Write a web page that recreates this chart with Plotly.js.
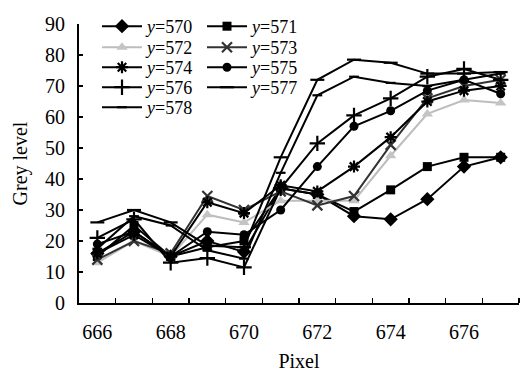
<!DOCTYPE html>
<html>
<head>
<meta charset="utf-8">
<script src="https://cdn.plot.ly/plotly-3.0.1.min.js"></script>
<style>html,body{margin:0;padding:0;background:#fff;}#chart{width:520px;height:374px;}</style>
</head>
<body>
<div id="chart"></div>
<script>
// ---- data ----
var pixels = [666, 667, 668, 669, 670, 671, 672, 673, 674, 675, 676, 677];
var seriesNames = ["570", "571", "572", "573", "574", "575", "576", "577", "578"];
var y570 = [16, 23, 15, 20, 16.5, 37, 35, 28, 27, 33.5, 44, 47];
var y571 = [15, 25, 15, 18, 20, 37, 35, 29.5, 36.5, 44, 47, 47];
var y572 = [13, 20, 15, 28.5, 26, 33, 33, 33, 47.5, 61, 65.5, 64.5];
var y573 = [14, 20, 16, 34.5, 30, 36, 31.5, 34.5, 51, 66, 70, 72];
var y574 = [16, 22, 15, 32.5, 29, 38, 36, 44, 53.5, 65, 68.5, 70];
var y575 = [19, 23, 15, 23, 22, 30, 44, 57, 62, 68.5, 72, 67.5];
var y576 = [21, 27, 13, 14.5, 11.5, 37, 51.5, 60.5, 66, 73, 75.5, 72];
var y577 = [26, 30, 26, 18.5, 18, 47, 72, 78.5, 77.5, 74, 74, 74.5];
var y578 = [17.5, 28, 25, 17, 14.3, 42, 67, 73, 71, 70, 72, 74];
var xTickVals = [666, 668, 670, 672, 674, 676];
var xMinorTicks = [666.5, 667.5, 668.5, 669.5, 670.5, 671.5, 672.5, 673.5, 674.5, 675.5, 676.5, 677.5];

var seriesData = [y570, y571, y572, y573, y574, y575, y576, y577, y578];
var symbols = ["diamond", "square", "triangle-up", "x-thin-open", "asterisk-open", "circle", "cross-thin-open", "line-ew-open", "line-ew-open"];
var sizes = [11, 9, 10, 10, 10, 9, 11, 10, 7];
var lineColors = ["#000", "#000", "#bdbdbd", "#333", "#000", "#000", "#000", "#000", "#000"];
var markerColors = ["#000", "#000", "#c4c4c4", "#333", "#000", "#000", "#000", "#000", "#000"];
var legendIds = ["legend", "legend2", "legend3", "legend4", "legend5", "legend6", "legend7", "legend8", "legend9"];

var traces = seriesData.map(function (ys, i) {
  var open = symbols[i].indexOf("open") >= 0;
  return {
    type: "scatter",
    mode: "lines+markers",
    x: pixels,
    y: ys,
    name: "<i>y</i>=" + seriesNames[i],
    legend: legendIds[i],
    line: {color: lineColors[i], width: 2},
    marker: {
      symbol: symbols[i],
      size: sizes[i],
      color: markerColors[i],
      line: {color: markerColors[i], width: open ? 2.2 : 0}
    },
    hoverinfo: "skip"
  };
});

var FONT = "Liberation Serif, Times New Roman, serif";
// plot area in pixels: left 79, right 519, top 24 (y=90), bottom 303 (y=0)
var MT = 4, MB = 71, ML = 79, MR = 1;
var paperH = 374 - MT - MB, paperW = 520 - ML - MR;
var legendPos = [[97, 8], [202, 8], [97, 29], [202, 29], [97, 49], [202, 49], [97, 69], [202, 69], [97, 89]];

var layout = {
  width: 520,
  height: 374,
  margin: {l: ML, r: MR, t: MT, b: MB},
  paper_bgcolor: "#fff",
  plot_bgcolor: "#fff",
  font: {family: FONT, size: 20, color: "#000"},
  showlegend: true,
  xaxis: {
    range: [665.5, 677.5],
    tickvals: xTickVals,
    ticktext: xTickVals.map(String),
    ticks: "",
    showgrid: false,
    zeroline: false,
    showline: true,
    linecolor: "#000",
    linewidth: 2,
    ticklabelstandoff: 10,
    tickfont: {family: FONT, size: 20, color: "#000"},
    minor: {tickvals: xMinorTicks, ticks: "inside", ticklen: 5, tickwidth: 1.5, tickcolor: "#000", showgrid: false},
    title: {text: "Pixel", font: {family: FONT, size: 20, color: "#000"}, standoff: 12}
  },
  yaxis: {
    domain: [0, (303 - 24) / paperH],
    range: [0, 90],
    dtick: 10,
    ticks: "inside",
    ticklen: 4,
    tickwidth: 1.5,
    tickcolor: "#000",
    showgrid: false,
    zeroline: false,
    showline: true,
    linecolor: "#000",
    linewidth: 2,
    ticklabelstandoff: 8,
    tickfont: {family: FONT, size: 20, color: "#000"},
    title: {text: "Grey level", font: {family: FONT, size: 20, color: "#000"}, standoff: 12}
  }
};

legendIds.forEach(function (id, i) {
  layout[id] = {
    xref: "paper",
    yref: "paper",
    x: (legendPos[i][0] - ML) / paperW,
    y: (374 - MB - legendPos[i][1]) / paperH,
    xanchor: "left",
    yanchor: "top",
    bgcolor: "rgba(0,0,0,0)",
    borderwidth: 0,
    itemwidth: 40,
    font: {family: FONT, size: 18, color: "#000"}
  };
});

Plotly.newPlot("chart", traces, layout, {staticPlot: true, displayModeBar: false});
</script>
</body>
</html>
